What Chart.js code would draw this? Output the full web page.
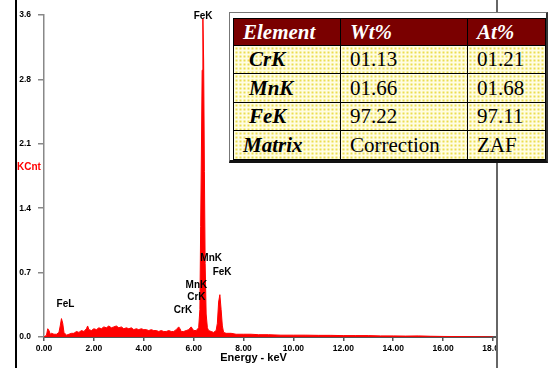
<!DOCTYPE html>
<html>
<head>
<meta charset="utf-8">
<script src="https://cdn.jsdelivr.net/npm/chart.js@4"></script>
<style>
  html, body { margin: 0; padding: 0; background: #fff; }
  #wrap { position: relative; width: 548px; height: 368px; overflow: hidden; }
  #c { position: absolute; left: 0; top: 0; }
  .edgeL { position: absolute; left: 15px; top: 0; width: 2px; height: 368px; background: #000; }
  .mask { position: absolute; left: 498px; top: 0; width: 50px; height: 368px; background: #fff; }
  .edgeR { position: absolute; left: 496px; top: 0; width: 2px; height: 368px; background: #666; }
  #box {
    position: absolute; left: 229px; top: 12px; width: 319px; height: 151px;
    box-sizing: border-box; background: #fff;
    border-top: 1px solid #777; border-left: 1px solid #777;
    border-right: 2px solid #333; border-bottom: 3px solid #111;
    padding: 5px 1px 1px 3px;
  }
  #box table { border-collapse: collapse; width: 312px; height: 141px; border: 1px solid #000; table-layout: fixed; }
  #box td {
    border: 1px solid #000; padding: 0 0 0 9px; font-family: "Liberation Serif", serif;
    font-size: 21px; line-height: 1; color: #000; vertical-align: middle; white-space: nowrap;
    background-color: #fffde3;
    background-image: radial-gradient(circle, #ebdd50 0.9px, transparent 1.3px);
    background-size: 4px 4px;
  }
  #box tr.head td { background: #7a0000; color: #fff; font-weight: bold; font-style: italic; }
  #box td.el { font-weight: bold; font-style: italic; padding-left: 15px; }
  #box td.mx { font-weight: bold; font-style: italic; }
</style>
</head>
<body>
<div id="wrap">
  <canvas id="c" width="548" height="368"></canvas>
  <div class="mask"></div>
  <div class="edgeR"></div>
  <div class="edgeL"></div>
  <div id="box">
    <table>
      <colgroup><col style="width:107px"><col style="width:127px"><col style="width:78px"></colgroup>
      <tr class="head" style="height:27px"><td>Element</td><td>Wt%</td><td>At%</td></tr>
      <tr style="height:28px"><td class="el">CrK</td><td>01.13</td><td>01.21</td></tr>
      <tr style="height:29px"><td class="el">MnK</td><td>01.66</td><td>01.68</td></tr>
      <tr style="height:28px"><td class="el">FeK</td><td>97.22</td><td>97.11</td></tr>
      <tr style="height:29px"><td class="mx">Matrix</td><td>Correction</td><td>ZAF</td></tr>
    </table>
  </div>
</div>
<script>
// spectrum (keV, counts)
var energy = [
  0.00, 0.10, 0.15, 0.20, 0.25, 0.30, 0.40, 0.50, 0.60, 0.65, 0.70, 0.75, 0.80, 0.90,
  1.00, 1.10, 1.20, 1.30, 1.40, 1.50, 1.60, 1.70, 1.75, 1.80, 1.90,
  2.00, 2.10, 2.20, 2.30, 2.40, 2.50, 2.60, 2.70, 2.80, 2.90,
  3.00, 3.10, 3.20, 3.30, 3.40, 3.50, 3.60, 3.70, 3.80, 3.90,
  4.00, 4.10, 4.20, 4.30, 4.40, 4.50, 4.60, 4.70, 4.80, 4.90,
  5.00, 5.10, 5.20, 5.30, 5.40, 5.45, 5.50, 5.60, 5.70, 5.80, 5.90, 5.95,
  6.00, 6.10, 6.20, 6.25, 6.28, 6.31, 6.34, 6.37, 6.40, 6.43, 6.46, 6.50, 6.55,
  6.60, 6.70, 6.80, 6.90, 6.95, 7.00, 7.05, 7.10, 7.15, 7.20, 7.30, 7.50, 7.70,
  8.00, 8.30, 8.60, 9.00, 9.50, 10.0, 10.5, 11.0, 11.5, 12.0, 12.5, 13.0, 13.5,
  14.0, 14.5, 15.0, 15.5, 16.0, 16.5, 17.0, 17.5, 18.0
];
var counts = [
  0.00, 0.02, 0.09, 0.07, 0.03, 0.04, 0.03, 0.03, 0.05, 0.12, 0.20, 0.15, 0.05, 0.02,
  0.03, 0.04, 0.04, 0.06, 0.05, 0.07, 0.06, 0.09, 0.12, 0.08, 0.07,
  0.09, 0.08, 0.10, 0.09, 0.11, 0.10, 0.12, 0.10, 0.11, 0.12,
  0.10, 0.11, 0.09, 0.10, 0.09, 0.10, 0.08, 0.09, 0.08, 0.09,
  0.08, 0.08, 0.07, 0.08, 0.07, 0.07, 0.06, 0.07, 0.06, 0.06,
  0.07, 0.06, 0.06, 0.08, 0.11, 0.09, 0.06, 0.06, 0.07, 0.08, 0.11, 0.09,
  0.07, 0.07, 0.10, 0.30, 1.20, 2.00, 2.90, 3.46, 3.00, 1.80, 0.80, 0.25, 0.10,
  0.07, 0.06, 0.05, 0.07, 0.15, 0.38, 0.46, 0.30, 0.12, 0.05, 0.04, 0.04, 0.03,
  0.03, 0.03, 0.025, 0.025, 0.02, 0.02, 0.02, 0.018, 0.018, 0.015, 0.015, 0.015, 0.012,
  0.012, 0.01, 0.012, 0.008, 0.006, 0.005, 0.004, 0.002, 0.00
];

var xTicks = [0, 2, 4, 6, 8, 10, 12, 14, 16, 18];
var xTickLabels = ['0.00', '2.00', '4.00', '6.00', '8.00', '10.00', '12.00', '14.00', '16.00', '18.00'];
var yTicks = [0, 0.7, 1.4, 2.1, 2.8, 3.5];
var yTickLabels = ['0.0', '0.7', '1.4', '2.1', '2.8', '3.6'];

// peak labels (name, keV, height in KCnt)
var peakNames = ['FeL', 'CrK', 'CrK', 'MnK', 'MnK', 'FeK', 'FeK'];
var peakEnergy = [0.86, 5.57, 6.11, 6.11, 6.70, 7.14, 6.38];
var peakLabelY = [0.36, 0.29, 0.43, 0.56, 0.86, 0.70, 3.49];

var textPlugin = {
  id: 'peakLabels',
  afterDatasetsDraw: function(chart) {
    var ctx = chart.ctx, xs = chart.scales.x, ys = chart.scales.y;
    ctx.save();
    ctx.textBaseline = 'middle';
    ctx.textAlign = 'center';
    ctx.fillStyle = '#000';
    ctx.font = 'bold 10px "Liberation Sans"';
    peakNames.forEach(function(n, i) {
      ctx.fillText(n, xs.getPixelForValue(peakEnergy[i]), ys.getPixelForValue(peakLabelY[i]));
    });
    ctx.font = 'bold 11px "Liberation Sans"';
    ctx.fillText('Energy - keV', xs.getPixelForValue(8.4), 358);
    ctx.textAlign = 'left';
    ctx.fillStyle = '#ff0000';
    ctx.font = 'bold 10px "Liberation Sans"';
    ctx.fillText('KCnt', 17, ys.getPixelForValue(1.85));
    ctx.restore();
  }
};

var tickFont = { family: 'Liberation Sans', size: 8.5, weight: 'bold' };

new Chart(document.getElementById('c').getContext('2d'), {
  type: 'line',
  data: {
    datasets: [{
      data: energy.map(function(e, i) { return { x: e, y: counts[i] }; }),
      borderColor: '#ff0000',
      backgroundColor: '#ff0000',
      borderWidth: 1,
      pointRadius: 0,
      fill: 'origin',
      tension: 0
    }]
  },
  options: {
    responsive: false,
    animation: false,
    layout: { padding: { left: 0, top: 15, right: 51, bottom: 0 } },
    plugins: { legend: { display: false }, tooltip: { enabled: false } },
    scales: {
      x: {
        type: 'linear', min: 0, max: 18.16,
        afterBuildTicks: function(s) { s.ticks = xTicks.map(function(v) { return { value: v }; }); },
        afterFit: function(s) { s.height = 31; },
        grid: { drawOnChartArea: false, drawTicks: true, tickLength: 4, color: '#555', lineWidth: 1.5 },
        border: { color: '#555', width: 2 },
        ticks: { padding: 3, color: '#000', font: tickFont, maxRotation: 0, autoSkip: false,
          callback: function(v, i) { return xTickLabels[i]; } }
      },
      y: {
        min: 0, max: 3.5,
        afterBuildTicks: function(s) { s.ticks = yTicks.map(function(v) { return { value: v }; }); },
        afterFit: function(s) { s.width = 44; },
        grid: { drawOnChartArea: false, drawTicks: true, tickLength: 6, color: '#888', lineWidth: 1.5 },
        border: { color: '#888', width: 1.5 },
        ticks: { padding: 7, color: '#000', font: tickFont, autoSkip: false,
          callback: function(v, i) { return yTickLabels[i]; } }
      }
    }
  },
  plugins: [textPlugin]
});
</script>
</body>
</html>
